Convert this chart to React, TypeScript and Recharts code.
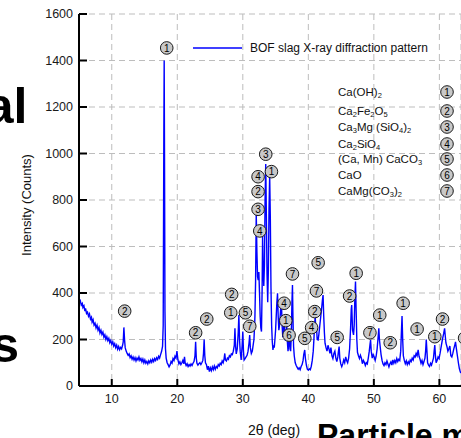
import React from 'react';
import { LineChart, Line, XAxis, YAxis, CartesianGrid, ReferenceDot, Legend } from 'recharts';

const FONT = '"Liberation Sans", Arial, Helvetica, sans-serif';

const twoThetaTicks = [10, 20, 30, 40, 50, 60];
const countTicks = [0, 200, 400, 600, 800, 1000, 1200, 1400, 1600];

// [2θ (deg), intensity (counts)]
const pattern: [number, number][] = [
  [5.0, 372], [5.1, 360], [5.2, 366], [5.35, 348], [5.5, 355], [5.6, 338], [5.75, 345], [5.9, 322], [6.0, 334], [6.15, 312],
  [6.3, 318], [6.45, 300], [6.6, 310], [6.75, 288], [6.9, 296], [7.0, 275], [7.15, 285], [7.3, 262], [7.45, 270], [7.6, 250],
  [7.75, 262], [7.9, 240], [8.05, 252], [8.2, 228], [8.35, 240], [8.5, 222], [8.65, 232], [8.8, 210], [8.95, 220], [9.1, 200],
  [9.25, 212], [9.4, 195], [9.55, 205], [9.7, 186], [9.85, 196], [10.0, 180], [10.15, 190], [10.3, 172], [10.45, 182], [10.6, 165],
  [10.75, 176], [10.9, 158], [11.05, 170], [11.2, 156], [11.35, 166], [11.5, 160], [11.65, 175], [11.75, 190], [11.85, 252], [11.95, 200],
  [12.05, 165], [12.2, 150], [12.35, 140], [12.5, 132], [12.65, 138], [12.8, 122], [12.95, 130], [13.1, 115], [13.25, 125], [13.4, 112],
  [13.55, 122], [13.7, 108], [13.85, 120], [14.0, 112], [14.15, 125], [14.3, 110], [14.45, 118], [14.6, 104], [14.75, 116], [14.9, 100],
  [15.05, 112], [15.2, 98], [15.35, 106], [15.5, 95], [15.65, 108], [15.8, 100], [15.95, 112], [16.1, 102], [16.25, 115], [16.4, 105],
  [16.55, 118], [16.7, 110], [16.85, 122], [17.0, 114], [17.15, 128], [17.3, 120], [17.45, 135], [17.6, 148], [17.75, 170], [17.85, 260],
  [17.95, 1100], [18.0, 1400], [18.05, 1000], [18.12, 320], [18.2, 160], [18.3, 120], [18.45, 100], [18.6, 92], [18.75, 82], [18.9, 90],
  [19.05, 105], [19.2, 98], [19.35, 118], [19.5, 110], [19.65, 128], [19.8, 120], [19.95, 150], [20.1, 112], [20.25, 95], [20.4, 104],
  [20.55, 92], [20.7, 100], [20.85, 110], [21.0, 96], [21.1, 126], [21.2, 100], [21.35, 88], [21.5, 96], [21.65, 84], [21.8, 92],
  [21.95, 86], [22.1, 95], [22.25, 88], [22.4, 98], [22.55, 105], [22.7, 130], [22.8, 190], [22.9, 120], [23.0, 98], [23.15, 90],
  [23.3, 96], [23.45, 100], [23.6, 92], [23.75, 100], [23.9, 110], [24.0, 140], [24.1, 200], [24.2, 130], [24.3, 100], [24.45, 92],
  [24.6, 70], [24.75, 85], [24.9, 62], [25.05, 78], [25.2, 66], [25.35, 82], [25.5, 70], [25.65, 86], [25.8, 72], [25.95, 84],
  [26.1, 78], [26.25, 92], [26.4, 86], [26.55, 98], [26.7, 92], [26.85, 108], [27.0, 100], [27.15, 118], [27.25, 140], [27.35, 112],
  [27.5, 108], [27.65, 120], [27.8, 115], [27.95, 130], [28.1, 125], [28.25, 138], [28.4, 135], [28.55, 150], [28.7, 175], [28.8, 248],
  [28.9, 170], [29.0, 138], [29.15, 160], [29.3, 230], [29.4, 305], [29.5, 200], [29.6, 150], [29.75, 112], [29.9, 175], [30.0, 234],
  [30.1, 150], [30.2, 112], [30.35, 118], [30.5, 125], [30.65, 132], [30.8, 150], [30.95, 185], [31.05, 219], [31.15, 165], [31.3, 140],
  [31.45, 150], [31.6, 180], [31.7, 200], [31.8, 260], [31.85, 300], [31.95, 450], [32.05, 743], [32.15, 580], [32.25, 470], [32.35, 455],
  [32.45, 490], [32.55, 400], [32.65, 300], [32.75, 250], [32.85, 234], [32.95, 420], [33.02, 650], [33.1, 520], [33.2, 430], [33.3, 520],
  [33.4, 800], [33.5, 955], [33.6, 720], [33.7, 480], [33.8, 360], [33.9, 500], [34.0, 760], [34.1, 905], [34.2, 720], [34.3, 420],
  [34.4, 260], [34.5, 190], [34.6, 155], [34.7, 175], [34.8, 165], [34.9, 200], [35.0, 240], [35.1, 300], [35.2, 360], [35.3, 399],
  [35.4, 300], [35.5, 240], [35.6, 260], [35.7, 300], [35.8, 340], [35.9, 356], [36.0, 260], [36.1, 210], [36.2, 240], [36.3, 270],
  [36.4, 220], [36.5, 195], [36.6, 240], [36.7, 260], [36.8, 190], [36.9, 150], [37.0, 180], [37.1, 230], [37.2, 160], [37.3, 150],
  [37.4, 220], [37.5, 360], [37.58, 434], [37.65, 300], [37.75, 170], [37.85, 130], [38.0, 100], [38.15, 88], [38.3, 80], [38.45, 72],
  [38.6, 78], [38.75, 70], [38.9, 84], [39.05, 92], [39.2, 110], [39.3, 135], [39.45, 155], [39.55, 120], [39.7, 90], [39.85, 72],
  [40.0, 68], [40.15, 74], [40.3, 70], [40.45, 85], [40.6, 110], [40.75, 150], [40.85, 200], [40.95, 260], [41.05, 300], [41.15, 240],
  [41.25, 255], [41.35, 200], [41.5, 198], [41.6, 220], [41.75, 260], [41.9, 300], [42.05, 340], [42.15, 370], [42.25, 391], [42.35, 300],
  [42.45, 230], [42.55, 184], [42.7, 165], [42.85, 150], [43.0, 175], [43.15, 160], [43.3, 140], [43.45, 165], [43.6, 130], [43.75, 118],
  [43.9, 140], [44.05, 150], [44.2, 120], [44.35, 105], [44.5, 125], [44.6, 150], [44.7, 170], [44.8, 120], [44.95, 95], [45.1, 83],
  [45.25, 95], [45.4, 112], [45.55, 100], [45.7, 125], [45.85, 110], [46.0, 100], [46.15, 120], [46.3, 160], [46.45, 250], [46.55, 330],
  [46.62, 348], [46.75, 240], [46.9, 220], [47.0, 260], [47.1, 380], [47.2, 449], [47.3, 320], [47.4, 200], [47.5, 145], [47.65, 130],
  [47.8, 118], [47.95, 132], [48.1, 120], [48.25, 96], [48.4, 110], [48.55, 102], [48.7, 88], [48.85, 100], [49.0, 95], [49.15, 120],
  [49.3, 150], [49.42, 180], [49.5, 198], [49.6, 150], [49.75, 120], [49.9, 135], [50.05, 125], [50.2, 110], [50.35, 128], [50.5, 160],
  [50.65, 210], [50.76, 248], [50.85, 200], [51.0, 160], [51.1, 135], [51.25, 110], [51.4, 95], [51.55, 88], [51.7, 100], [51.85, 92],
  [52.0, 108], [52.15, 95], [52.3, 82], [52.45, 96], [52.6, 104], [52.75, 90], [52.9, 112], [53.05, 98], [53.2, 110], [53.35, 100],
  [53.5, 118], [53.65, 105], [53.8, 115], [53.95, 110], [54.1, 150], [54.2, 230], [54.3, 301], [54.4, 200], [54.5, 130], [54.65, 110],
  [54.8, 96], [54.95, 108], [55.1, 92], [55.25, 104], [55.4, 95], [55.55, 112], [55.7, 105], [55.85, 120], [56.0, 112], [56.15, 130],
  [56.3, 125], [56.45, 140], [56.6, 130], [56.76, 155], [56.9, 128], [57.05, 115], [57.2, 98], [57.35, 110], [57.5, 92], [57.65, 105],
  [57.8, 120], [57.9, 150], [58.0, 200], [58.1, 150], [58.2, 100], [58.35, 90], [58.5, 84], [58.65, 98], [58.8, 90], [58.95, 105],
  [59.1, 120], [59.2, 150], [59.3, 176], [59.4, 130], [59.5, 100], [59.65, 110], [59.8, 125], [59.95, 118], [60.1, 140], [60.25, 165],
  [60.4, 190], [60.5, 205], [60.65, 225], [60.8, 248], [60.9, 215], [61.0, 185], [61.15, 170], [61.3, 150], [61.45, 160], [61.6, 172],
  [61.75, 130], [61.9, 125], [62.05, 140], [62.2, 160], [62.35, 175], [62.46, 190], [62.6, 160], [62.75, 130], [62.9, 100], [63.05, 75],
  [63.2, 60], [63.3, 55],
];

// [2θ, counts, phase number] positions of circled phase markers
const peakMarks: [number, number, number][] = [
  [18.39, 1454, 1], [11.97, 322, 2], [22.8, 229, 2], [24.5, 288, 2], [28.16, 315, 1], [28.3, 394, 2],
  [30.4, 315, 5], [31.06, 257, 7], [33.5, 997, 3], [34.37, 922, 1], [32.33, 900, 4], [32.33, 836, 2],
  [32.33, 760, 3], [32.59, 667, 4], [37.58, 482, 7], [41.5, 530, 5], [41.24, 409, 7], [40.98, 320, 2],
  [40.5, 251, 4], [39.46, 205, 5], [36.3, 356, 4], [36.56, 281, 1], [37.06, 219, 6], [44.4, 209, 5],
  [46.3, 387, 2], [47.3, 485, 1], [49.4, 229, 7], [50.9, 305, 1], [52.5, 186, 2], [54.47, 356, 1],
  [56.6, 245, 1], [59.3, 212, 1], [60.48, 288, 2], [63.85, 206, 2],
];

// phase key: "_x" marks a subscript character
const phaseNames = ['Ca(OH)_2', 'Ca_2Fe_2O_5', 'Ca_3Mg (SiO_4)_2', 'Ca_2SiO_4', '(Ca, Mn) CaCO_3', 'CaO', 'CaMg(CO_3)_2'];
const phaseRowY = [92, 111, 127, 144, 159, 175, 191];

const seriesName = 'BOF slag X-ray diffraction pattern';

const data = pattern.map(([t, c]) => ({ t, c }));

const Badge = ({ cx, cy, n }: { cx: number; cy: number; n: number }) => (
  <g>
    <circle cx={cx} cy={cy} r={6.3} fill="#c8c8c8" stroke="#1a1a1a" strokeWidth={1} />
    <text x={cx} y={cy + 3.7} textAnchor="middle" fontSize={10} fontFamily={FONT} fill="#000">
      {n}
    </text>
  </g>
);

const Formula = ({ s, x, y }: { s: string; x: number; y: number }) => {
  const parts = s.split(/(_.)/).filter((p) => p.length > 0);
  let sub = false;
  const spans: React.ReactNode[] = [];
  parts.forEach((p, i) => {
    if (p.startsWith('_')) {
      spans.push(
        <tspan key={i} dy={sub ? 0 : 1.5} fontSize={7.5}>
          {p.slice(1)}
        </tspan>
      );
      sub = true;
    } else {
      spans.push(
        <tspan key={i} dy={sub ? -1.5 : 0} fontSize={11.5}>
          {p}
        </tspan>
      );
      sub = false;
    }
  });
  return (
    <text x={x} y={y} fontFamily={FONT} fill="#111">
      {spans}
    </text>
  );
};

const LegendContent = () => (
  <svg width={260} height={16} style={{ display: 'block' }}>
    <line x1={3} y1={8} x2={52} y2={8} stroke="#0000ff" strokeWidth={1.3} />
    <text x={60} y={12.2} fontSize={12} fontFamily={FONT} fill="#111">
      {seriesName}
    </text>
  </svg>
);

export default function App() {
  return (
    <div style={{ position: 'absolute', left: 0, top: 0, width: 461, height: 438, overflow: 'hidden', background: '#fff' }}>
      <LineChart width={461} height={438} data={data} margin={{ top: 14, right: 0, bottom: 0, left: 0 }}>
        <CartesianGrid stroke="#bdbdbd" strokeDasharray="6 4" />
        <XAxis
          dataKey="t"
          type="number"
          domain={[5, 63.3]}
          ticks={twoThetaTicks}
          allowDataOverflow
          height={52}
          tickSize={-7}
          tickMargin={15}
          axisLine={{ stroke: '#000', strokeWidth: 2 }}
          tickLine={{ stroke: '#000', strokeWidth: 2 }}
          tick={{ fontSize: 12.5, fontFamily: FONT, fill: '#1a1a1a' }}
        />
        <XAxis
          xAxisId="top"
          orientation="top"
          type="number"
          domain={[5, 63.3]}
          ticks={twoThetaTicks}
          allowDataOverflow
          height={0}
          tickSize={-7}
          tick={false}
          axisLine={{ stroke: '#000', strokeWidth: 2 }}
          tickLine={{ stroke: '#000', strokeWidth: 2 }}
        />
        <YAxis
          type="number"
          domain={[0, 1600]}
          ticks={countTicks}
          width={79}
          tickSize={-8}
          tickMargin={14}
          axisLine={{ stroke: '#000', strokeWidth: 2 }}
          tickLine={{ stroke: '#000', strokeWidth: 2 }}
          tick={{ fontSize: 12.5, fontFamily: FONT, fill: '#1a1a1a' }}
        />
        <Legend
          layout="horizontal"
          verticalAlign="middle"
          align="center"
          content={<LegendContent />}
          wrapperStyle={{ top: 40, left: 190, width: 260, height: 16 }}
        />
        <Line
          type="linear"
          dataKey="c"
          name={seriesName}
          stroke="#0000ff"
          strokeWidth={1.4}
          dot={false}
          isAnimationActive={false}
        />
        {peakMarks.map(([t, c, n], i) => (
          <ReferenceDot
            key={i}
            x={t}
            y={c}
            r={6.3}
            ifOverflow="visible"
            shape={(p: any) => <Badge cx={p.cx} cy={p.cy} n={n} />}
          />
        ))}
      </LineChart>
      <svg
        width={461}
        height={438}
        style={{ position: 'absolute', left: 0, top: 0, pointerEvents: 'none' }}
      >
        {phaseNames.map((s, i) => (
          <g key={s}>
            <Formula s={s} x={338} y={phaseRowY[i] + 4} />
            <Badge cx={447} cy={phaseRowY[i]} n={i + 1} />
          </g>
        ))}
        <text
          transform="translate(31,205) rotate(-90)"
          textAnchor="middle"
          fontSize={13}
          fontFamily={FONT}
          fill="#111"
        >
          Intensity (Counts)
        </text>
        <text x={274} y={435} textAnchor="middle" fontSize={14} fontFamily={FONT} fill="#111">
          2θ (deg)
        </text>
        <text x={27.5} y={123} textAnchor="end" fontSize={50} fontWeight="bold" fontFamily={FONT} fill="#000">
          al
        </text>
        <text x={19} y={362} textAnchor="end" fontSize={50} fontWeight="bold" fontFamily={FONT} fill="#000">
          s
        </text>
        <text x={317} y={446} fontSize={32} fontWeight="bold" fontFamily={FONT} fill="#000">
          Particle m
        </text>
      </svg>
    </div>
  );
}
